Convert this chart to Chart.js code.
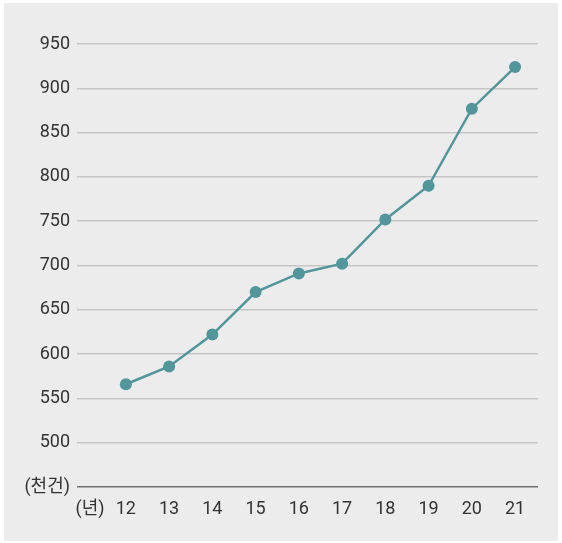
<!DOCTYPE html>
<html>
<head>
<meta charset="utf-8">
<script src="https://cdn.jsdelivr.net/npm/chart.js@4/dist/chart.umd.min.js"></script>
<style>
  body { margin: 0; background: #fff; }
  #box { position: absolute; left: 4px; top: 3px; width: 554px; height: 538px; background: #ececec; }
</style>
</head>
<body>
<div id="box"><canvas id="grafico" width="554" height="538"></canvas></div>
<script>
// data
const anos = [12, 13, 14, 15, 16, 17, 18, 19, 20, 21];
const valores = [566, 586, 622, 670, 691, 702, 752, 790, 877, 924];
const unidadeX = '(년)';
const unidadeY = '(천건)';

const corLinha = '#52959b';
const fonte = { family: "Roboto, 'Noto Sans CJK KR', sans-serif", size: 18 };

const pontos = anos.map(function (a, i) { return { x: a, y: valores[i] }; });

new Chart(document.getElementById('grafico'), {
    type: 'line',
    data: {
        datasets: [{
            data: pontos,
            borderColor: corLinha,
            backgroundColor: corLinha,
            borderWidth: 2.5,
            pointRadius: 6,
            pointBorderWidth: 0,
            tension: 0
        }]
    },
    options: {
        responsive: false,
        animation: false,
        devicePixelRatio: 1,
        layout: { padding: { top: 41, right: 20, left: 0, bottom: 0 } },
        plugins: {
            legend: { display: false },
            tooltip: { enabled: false }
        },
        scales: {
            x: {
                type: 'linear',
                min: 10.87,
                max: 21.53,
                afterBuildTicks: function (scale) {
                    scale.ticks = [{ value: 11.17 }].concat(anos.map(function (a) { return { value: a }; }));
                },
                afterFit: function (scale) { scale.height = 54; },
                grid: { display: false, drawTicks: false },
                border: { display: false },
                ticks: {
                    padding: 12,
                    color: '#333',
                    font: fonte,
                    maxRotation: 0,
                    autoSkip: false,
                    callback: function (v) { return v < 12 ? unidadeX : v; }
                }
            },
            y: {
                min: 450,
                max: 950,
                afterFit: function (scale) { scale.width = 73; },
                grid: {
                    drawTicks: false,
                    color: function (c) { return c.tick && c.tick.value === 450 ? '#707070' : '#c6c6c6'; },
                    lineWidth: 1.5
                },
                border: { display: false },
                ticks: {
                    stepSize: 50,
                    padding: 7,
                    color: '#333',
                    font: fonte,
                    callback: function (v) { return v === 450 ? unidadeY : v; }
                }
            }
        }
    }
});
</script>
</body>
</html>
